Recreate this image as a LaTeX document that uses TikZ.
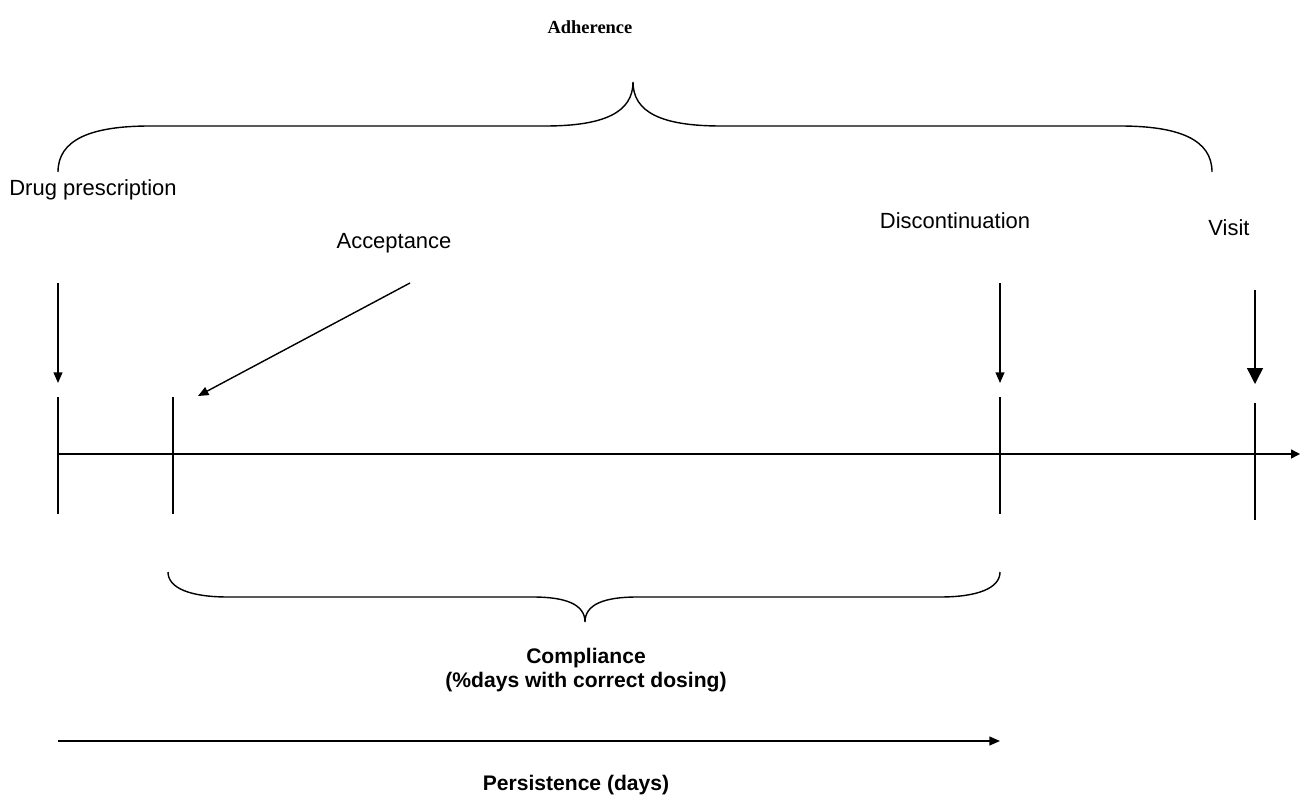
\documentclass[tikz,border=0pt]{standalone}
\usepackage{fontspec}
\setmainfont{Liberation Sans}
\newfontfamily\titlefont{Liberation Serif}
\usetikzlibrary{positioning,arrows.meta,calc}

\begin{document}
\begin{tikzpicture}[
  x=0.02cm, y=-0.02cm,
  line width=0.8pt,
  event/.style={font=\fontsize{12.5}{14}\selectfont, inner sep=0pt},
  summary/.style={font=\fontsize{12}{14}\selectfont\bfseries, align=center, inner sep=0pt},
  pointer/.style={draw, -{Triangle[length=6pt,width=5pt]}},
  bigpointer/.style={draw, -{Triangle[length=9pt,width=9pt]}},
  brace/.style={draw},
]
  \useasboundingbox (0,0) rectangle (1301,797);

  % time line
  \coordinate (start) at (58,454);
  \coordinate (finish) at (1300,454);
  \draw[-{Triangle[length=5pt,width=5pt]}] (start) -- (finish);
  \foreach \name/\xpos/\top/\bottom in {prescribed/58/397/514, accepted/173/397/514,
      stopped/1000/397/514, visited/1255/403/520}{
    \coordinate (\name-top) at (\xpos,\top);
    \coordinate (\name-bottom) at (\xpos,\bottom);
    \draw (\name-top) -- (\name-bottom);
  }

  % events
  \node[event] (prescription)    at (93,190)  {Drug prescription};
  \node[event] (acceptance)      at (394,243) {Acceptance};
  \node[event] (discontinuation) at (955,221) {Discontinuation};
  \node[event] (visit)           at (1229,228) {Visit};

  \coordinate (prescription-from) at (58,283);
  \coordinate (acceptance-from)   at (410,283);
  \coordinate (acceptance-to)     at (198,396);
  \coordinate (stopped-from)      at (1000,283);
  \coordinate (visit-from)        at (1255,290);

  \draw[pointer, shorten >=0.28cm] (prescription-from) -- (prescribed-top);
  \draw[pointer] (acceptance-from) -- (acceptance-to);
  \draw[pointer, shorten >=0.28cm] (stopped-from) -- (stopped-top);
  \draw[bigpointer, shorten >=0.38cm] (visit-from) -- (visited-top);

  % adherence brace
  \node[font=\titlefont\fontsize{10.5}{12}\selectfont\bfseries, inner sep=0pt] (adherence) at (590,27) {Adherence};
  \draw[brace] (58,172) .. controls (58,140) and (90,126) .. (150,126) -- (545,126)
    .. controls (605,126) and (633,112) .. (633,82)
    .. controls (633,112) and (661,126) .. (721,126) -- (1120,126)
    .. controls (1180,126) and (1212,140) .. (1212,172);

  % compliance brace
  \draw[brace] (accepted-bottom) ++(-5,58) .. controls (168,588) and (190,597) .. (228,597) -- (533,597)
    .. controls (565,597) and (585,604) .. (585,622)
    .. controls (585,604) and (605,597) .. (637,597) -- (940,597)
    .. controls (978,597) and (1000,588) .. (1000,572);
  \node[summary] (compliance) at (586,670) {Compliance\\(\%days with correct dosing)};

  % persistence
  \coordinate (persist-from) at (58,741);
  \coordinate (persist-to)   at (1000,741);
  \draw[pointer] (persist-from) -- (persist-to);
  \node[summary] (persistence) at (576,785) {Persistence (days)};
\end{tikzpicture}
\end{document}
